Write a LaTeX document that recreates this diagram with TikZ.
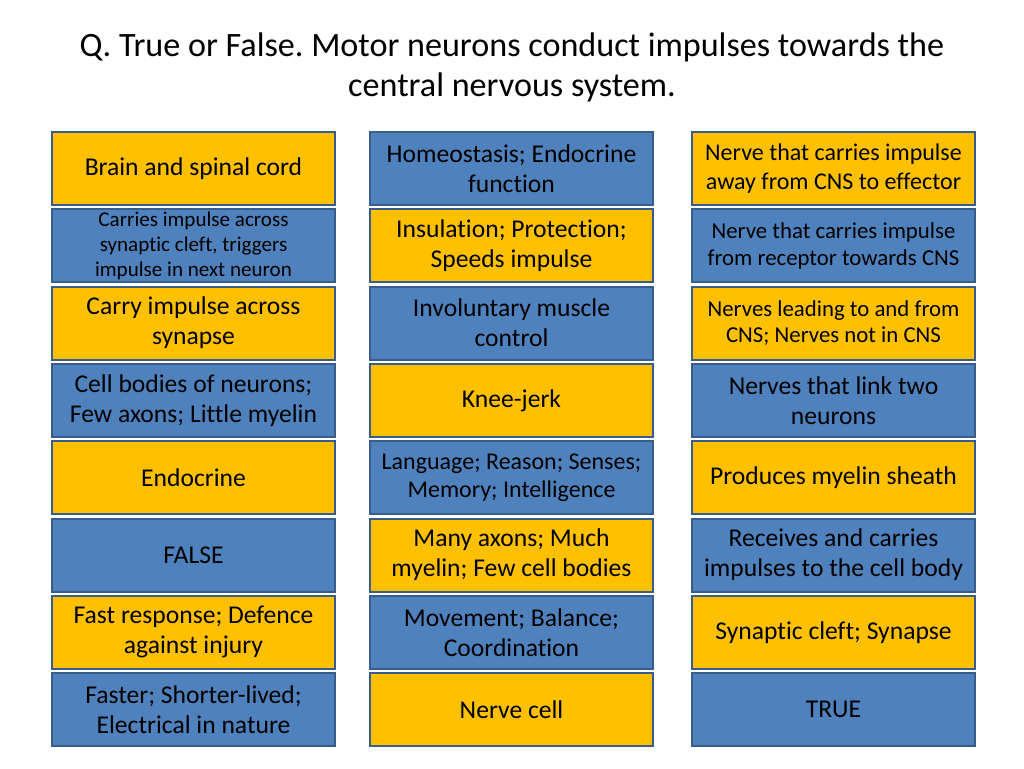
\documentclass[tikz,border=0pt]{standalone}
\usepackage{fontspec}
\setmainfont{Carlito}[Ligatures=NoCommon]
\frenchspacing
\definecolor{gold}{HTML}{FFC000}
\definecolor{blu}{HTML}{4F81BD}
\definecolor{edge}{HTML}{385D8A}
\tikzset{
  cell/.style={draw=edge, line width=1.5pt, minimum width=212.25pt, minimum height=54.75pt,
    inner sep=0pt, align=center, text=black, font=\fontsize{19.2}{22.5}\selectfont},
  g/.style={cell, fill=gold},
  b/.style={cell, fill=blu},
  sm/.style={font=\fontsize{15.8}{18.75}\selectfont},
  md/.style={font=\fontsize{17.1}{20}\selectfont},
  mdl/.style={font=\fontsize{18}{21.2}\selectfont},
}
\begin{document}
\begin{tikzpicture}[x=0.75pt,y=-0.75pt]
\useasboundingbox (0,0) rectangle (1024,768);
\node[align=center, font=\fontsize{25.6}{30}\selectfont] (title) at (512,67)
  {Q. True or False. Motor neurons conduct impulses towards the\\central nervous system.};
% column centres: 193.5, 511.5, 833.5 ; row centres: 168.5 + 77.3 i
\node[g] (a1) at (193.5,168.5) {Brain and spinal cord};
\node[b,sm] (a2) at (193.5,245.8) {Carries impulse across\\synaptic cleft, triggers\\impulse in next neuron};
\node[g] (a3) at (193.5,323.1) {Carry impulse across\\synapse};
\node[b] (a4) at (193.5,400.4) {Cell bodies of neurons;\\Few axons; Little myelin};
\node[g] (a5) at (193.5,477.7) {Endocrine};
\node[b] (a6) at (193.5,555.0) {FALSE};
\node[g] (a7) at (193.5,632.3) {Fast response; Defence\\against injury};
\node[b] (a8) at (193.5,709.6) {Faster; Shorter-lived;\\Electrical in nature};

\node[b] (b1) at (511.5,168.5) {Homeostasis; Endocrine\\function};
\node[g] (b2) at (511.5,245.8) {Insulation; Protection;\\Speeds impulse};
\node[b] (b3) at (511.5,323.1) {Involuntary muscle\\control};
\node[g] (b4) at (511.5,400.4) {Knee-jerk};
\node[b,mdl] (b5) at (511.5,477.7) {Language; Reason; Senses;\\Memory; Intelligence};
\node[g] (b6) at (511.5,555.0) {Many axons; Much\\myelin; Few cell bodies};
\node[b] (b7) at (511.5,632.3) {Movement; Balance;\\Coordination};
\node[g] (b8) at (511.5,709.6) {Nerve cell};

\node[g,mdl] (c1) at (833.5,168.5) {Nerve that carries impulse\\away from CNS to effector};
\node[b,md] (c2) at (833.5,245.8) {Nerve that carries impulse\\from receptor towards CNS};
\node[g,md] (c3) at (833.5,323.1) {Nerves leading to and from\\CNS; Nerves not in CNS};
\node[b] (c4) at (833.5,400.4) {Nerves that link two\\neurons};
\node[g] (c5) at (833.5,477.7) {Produces myelin sheath};
\node[b] (c6) at (833.5,555.0) {Receives and carries\\impulses to the cell body};
\node[g] (c7) at (833.5,632.3) {Synaptic cleft; Synapse};
\node[b] (c8) at (833.5,709.6) {TRUE};
\end{tikzpicture}
\end{document}
